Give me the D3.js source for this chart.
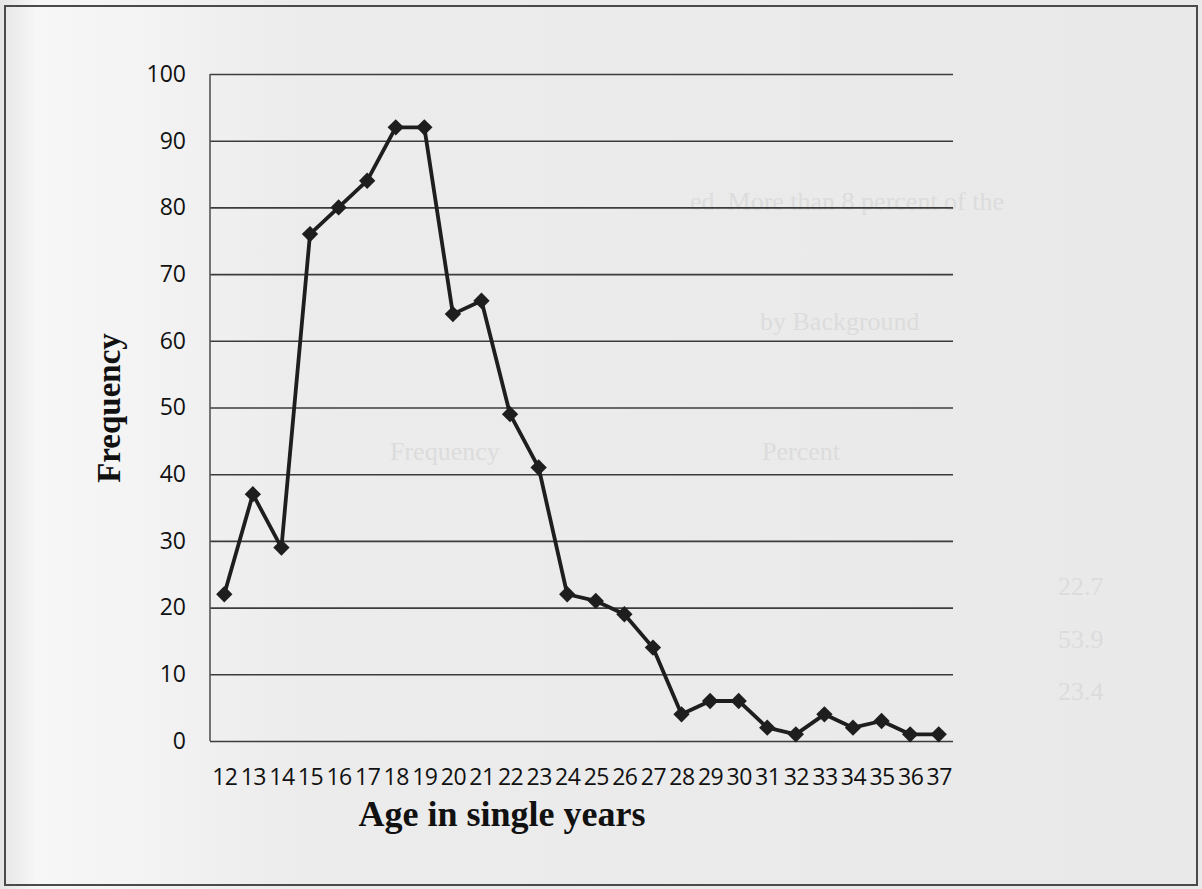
<!DOCTYPE html>
<html>
<head>
<meta charset="utf-8">
<script src="https://cdn.jsdelivr.net/npm/d3@7"></script>
<style>
  body { margin: 0; background: #ececec; }
  svg { display: block; }
</style>
</head>
<body>
<div id="chart"></div>
<script>
// Data
const ages = ["12","13","14","15","16","17","18","19","20","21","22","23","24",
              "25","26","27","28","29","30","31","32","33","34","35","36","37"];
const frequency = [22, 37, 29, 76, 80, 84, 92, 92, 64, 66, 49, 41, 22,
                   21, 19, 14, 4, 6, 6, 2, 1, 4, 2, 3, 1, 1];
const yTicks = [0, 10, 20, 30, 40, 50, 60, 70, 80, 90, 100];

// faint text of the page behind the chart
const ghostLines = [
    { t: "ed. More than 8 percent of the", x: 690, y: 210 },
    { t: "by Background", x: 760, y: 330 },
    { t: "Frequency", x: 390, y: 460 },
    { t: "Percent", x: 762, y: 460 },
    { t: "22.7", x: 1058, y: 595 },
    { t: "53.9", x: 1058, y: 648 },
    { t: "23.4", x: 1058, y: 700 }
];

const width = 1202;
const height = 889;
const plot = { left: 210, right: 953, top: 74, bottom: 741 };

const svg = d3.select("#chart")
    .append("svg")
    .attr("width", width)
    .attr("height", height);

// paper background with the lighter band on the left
const grad = svg.append("defs").append("linearGradient")
    .attr("id", "paper")
    .attr("x1", "0%").attr("x2", "100%");
grad.append("stop").attr("offset", "0%").attr("stop-color", "#e4e4e4");
grad.append("stop").attr("offset", "3%").attr("stop-color", "#f7f7f7");
grad.append("stop").attr("offset", "10%").attr("stop-color", "#f4f4f4");
grad.append("stop").attr("offset", "25%").attr("stop-color", "#ececec");
grad.append("stop").attr("offset", "100%").attr("stop-color", "#e9e9e9");

svg.append("rect")
    .attr("width", width)
    .attr("height", height)
    .attr("fill", "url(#paper)");

svg.append("g")
    .selectAll("text")
    .data(ghostLines)
    .enter()
    .append("text")
    .attr("x", d => d.x)
    .attr("y", d => d.y)
    .style("font-family", "'Liberation Serif', serif")
    .style("font-size", "26px")
    .style("fill", "#dcdcdc")
    .text(d => d.t);

svg.append("rect")
    .attr("x", 5)
    .attr("y", 6)
    .attr("width", 1192)
    .attr("height", 879)
    .attr("fill", "none")
    .attr("stroke", "#4a4a4a")
    .attr("stroke-width", 2);

// Scales
const xScale = d3.scalePoint()
    .domain(ages)
    .range([plot.left, plot.right])
    .padding(0.5);

const yScale = d3.scaleLinear()
    .domain([0, 100])
    .range([plot.bottom, plot.top]);

// Gridlines + y labels
const yAxis = d3.axisLeft(yScale)
    .tickValues(yTicks)
    .tickSize(-(plot.right - plot.left))
    .tickPadding(24);

const gy = svg.append("g")
    .attr("transform", `translate(${plot.left}, 0)`)
    .call(yAxis);
gy.select(".domain").remove();
gy.selectAll("line")
    .attr("stroke", "#3c3c3c")
    .attr("stroke-width", 1.6);
gy.selectAll("text")
    .style("font-family", "'Open Sans', sans-serif")
    .style("font-size", "23px")
    .style("fill", "#111");

// left axis line
svg.append("line")
    .attr("x1", plot.left).attr("x2", plot.left)
    .attr("y1", plot.top).attr("y2", plot.bottom)
    .attr("stroke", "#555")
    .attr("stroke-width", 1.6);

// x labels
const xAxis = d3.axisBottom(xScale)
    .tickSize(0)
    .tickPadding(28);

const gx = svg.append("g")
    .attr("transform", `translate(0, ${plot.bottom})`)
    .call(xAxis);
gx.select(".domain").remove();
gx.selectAll("text")
    .style("font-family", "'Open Sans', sans-serif")
    .style("font-size", "23px")
    .style("letter-spacing", "-0.5px")
    .style("fill", "#111");

// Line
const line = d3.line()
    .x((d, i) => xScale(ages[i]))
    .y(d => yScale(d));

svg.append("path")
    .datum(frequency)
    .attr("fill", "none")
    .attr("stroke", "#1e1e1e")
    .attr("stroke-width", 3.8)
    .attr("stroke-linejoin", "round")
    .attr("d", line);

// diamond markers
const diamond = d3.symbol().type(d3.symbolDiamond2).size(170);

svg.append("g")
    .selectAll("path")
    .data(frequency)
    .enter()
    .append("path")
    .attr("d", diamond)
    .attr("transform", (d, i) => `translate(${xScale(ages[i])}, ${yScale(d)})`)
    .attr("fill", "#1e1e1e");

// Axis titles
svg.append("text")
    .attr("x", 502)
    .attr("y", 826)
    .attr("text-anchor", "middle")
    .style("font-family", "'Liberation Serif', serif")
    .style("font-weight", "bold")
    .style("font-size", "36px")
    .style("fill", "#111")
    .text("Age in single years");

svg.append("text")
    .attr("transform", "translate(120, 408) rotate(-90)")
    .attr("text-anchor", "middle")
    .style("font-family", "'Liberation Serif', serif")
    .style("font-weight", "bold")
    .style("font-size", "33px")
    .style("fill", "#111")
    .text("Frequency");
</script>
</body>
</html>
